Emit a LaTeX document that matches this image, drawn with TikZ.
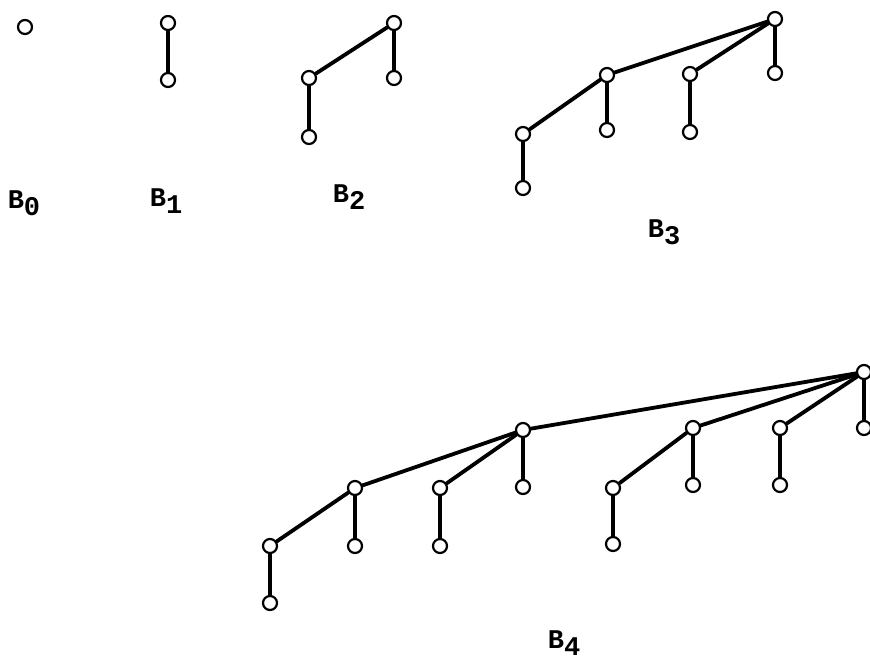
\documentclass[tikz,border=0pt]{standalone}
\usepackage{fontspec}
\setmonofont{Liberation Mono}
\begin{document}
\begin{tikzpicture}[x=1pt,y=-1pt,
  tn/.style={circle,draw,fill=white,line width=2.2pt,minimum size=14pt,inner sep=0pt},
  tedge/.style={line width=3.8pt,line cap=round},
  lab/.style={font=\ttfamily\bfseries\fontsize{27}{27}\selectfont,inner sep=0pt}]
\useasboundingbox (0,0) rectangle (870,664);
% B0
\node[tn] (a0) at (25,27) {};
\node[lab] (l0) at (24,203) {B\raisebox{-7pt}{0}};
% B1
\node[tn] (b0) at (168,23) {};
\node[tn] (b1) at (168,80) {};
\draw[tedge] (b0) -- (b1);
\node[lab] (l1) at (166,201) {B\raisebox{-7pt}{1}};
% B2
\node[tn] (c0) at (394,23) {};
\node[tn] (c1) at (309,78) {};
\node[tn] (c2) at (394,78) {};
\node[tn] (c3) at (309,137) {};
\draw[tedge] (c0) -- (c1); \draw[tedge] (c0) -- (c2); \draw[tedge] (c1) -- (c3);
\node[lab] (l2) at (349,197) {B\raisebox{-7pt}{2}};
% B3
\node[tn] (d0) at (775,19) {};
\node[tn] (d1) at (607,75) {};
\node[tn] (d2) at (690,74) {};
\node[tn] (d3) at (775,73) {};
\node[tn] (d4) at (523,134) {};
\node[tn] (d5) at (607,130) {};
\node[tn] (d6) at (690,132) {};
\node[tn] (d7) at (523,188) {};
\draw[tedge] (d0) -- (d1); \draw[tedge] (d0) -- (d2); \draw[tedge] (d0) -- (d3);
\draw[tedge] (d1) -- (d4); \draw[tedge] (d1) -- (d5); \draw[tedge] (d2) -- (d6);
\draw[tedge] (d4) -- (d7);
\node[lab] (l3) at (664,232) {B\raisebox{-7pt}{3}};
% B4
\node[tn] (e0) at (864,372) {};
\node[tn] (e1) at (523,430) {};
\node[tn] (e2) at (693,428) {};
\node[tn] (e3) at (780,428) {};
\node[tn] (e4) at (864,428) {};
\node[tn] (e5) at (355,488) {};
\node[tn] (e6) at (440,488) {};
\node[tn] (e7) at (523,487) {};
\node[tn] (e8) at (613,488) {};
\node[tn] (e9) at (693,485) {};
\node[tn] (e10) at (780,485) {};
\node[tn] (e11) at (270,546) {};
\node[tn] (e12) at (355,546) {};
\node[tn] (e13) at (440,546) {};
\node[tn] (e14) at (613,544) {};
\node[tn] (e15) at (270,603) {};
\draw[tedge] (e0) -- (e1); \draw[tedge] (e0) -- (e2); \draw[tedge] (e0) -- (e3); \draw[tedge] (e0) -- (e4);
\draw[tedge] (e1) -- (e5); \draw[tedge] (e1) -- (e6); \draw[tedge] (e1) -- (e7);
\draw[tedge] (e2) -- (e8); \draw[tedge] (e2) -- (e9);
\draw[tedge] (e3) -- (e10);
\draw[tedge] (e5) -- (e11); \draw[tedge] (e5) -- (e12);
\draw[tedge] (e6) -- (e13);
\draw[tedge] (e8) -- (e14);
\draw[tedge] (e11) -- (e15);
\node[lab] (l4) at (564,643) {B\raisebox{-7pt}{4}};
\end{tikzpicture}
\end{document}
